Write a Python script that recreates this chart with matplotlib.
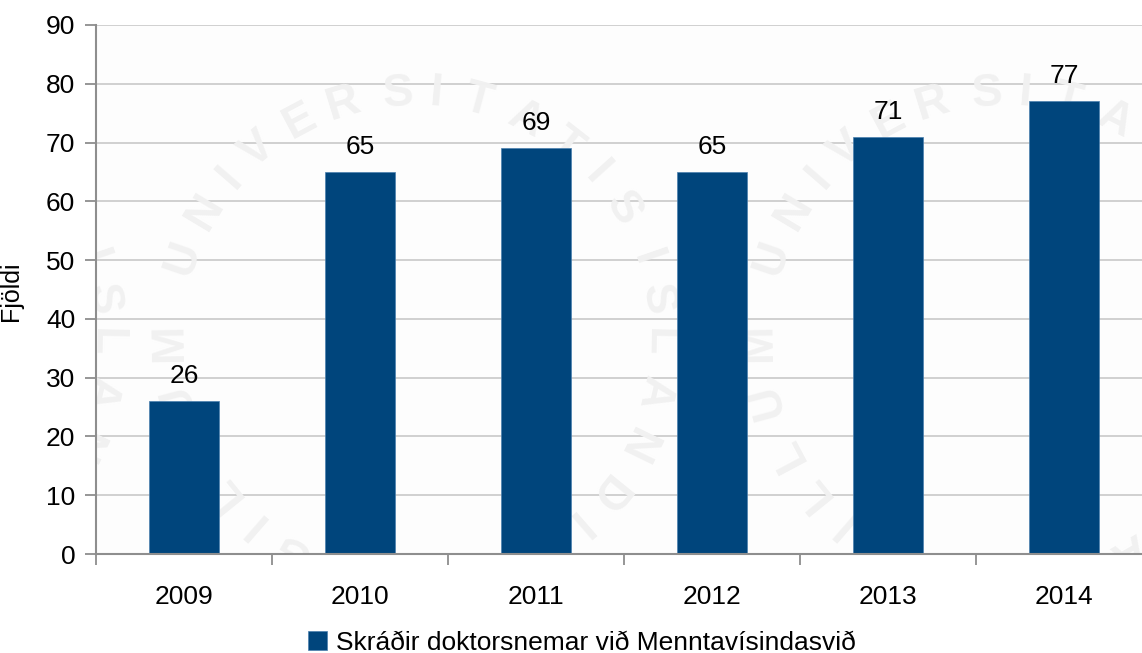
import numpy as np
import matplotlib
matplotlib.use("Agg")
import matplotlib.pyplot as plt
from matplotlib.transforms import Affine2D

years = ["2009", "2010", "2011", "2012", "2013", "2014"]
counts = [26, 65, 69, 65, 71, 77]
series_name = "Skráðir doktorsnemar við Menntavísindasvið"
y_label = "Fjöldi"
y_ticks = list(range(0, 100, 10))

seal_letters = list("SIGILLUM") + list("UNIVERSITATIS") + list("ISLANDIAE")
seal_angles = [-170, -160, -150, -139, -129, -118, -105, -91,
               -71, -59, -49, -40, -28, -17, -4, 5, 15, 27, 38, 48, 58,
               71, 81, 91, 103, 116, 129, 139, 150, 161]
seal_centres = [(-139, 338), (415, 338), (1004, 338)]
seal_radius = 245

W, H = 1142, 653
FONT = ["Liberation Sans Narrow", "Liberation Sans", "DejaVu Sans"]
plt.rcParams["font.family"] = FONT
BLUE = "#00457C"
AXIS = "#8E8E8E"
GRID = "#C9C9C9"

fig = plt.figure(figsize=(W / 100, H / 100), dpi=100, facecolor="white")
ax = fig.add_axes([96 / W, (H - 554) / H, 1056 / W, 529 / H])
ax.set_facecolor("#FDFDFD")

x = np.arange(len(years))
bars = ax.bar(x, counts, width=0.4, color=BLUE, edgecolor="#4A7FAE", linewidth=0.5,
              zorder=3, label=series_name)
ax.set_xlim(-0.5, 5.5)
ax.set_ylim(0, 90)
ax.set_yticks(y_ticks)
ax.set_xticks(x, years)
ax.set_xticks(np.arange(-0.5, 6, 1), minor=True)
ax.tick_params(axis="x", which="major", length=0, pad=22, labelsize=19, labelcolor="black")
ax.tick_params(axis="x", which="minor", length=8, width=1.3, color=AXIS)
ax.tick_params(axis="y", length=8, width=1.3, color=AXIS, pad=7, labelsize=19, labelcolor="black")
ax.grid(axis="y", color=GRID, linewidth=1.2, zorder=2)
ax.set_axisbelow(True)
for side in ("top", "right"):
    ax.spines[side].set_visible(False)
for side in ("left", "bottom"):
    ax.spines[side].set_color(AXIS)
    ax.spines[side].set_linewidth(1.5)
    ax.spines[side].set_zorder(4)

ax.set_ylabel(y_label, fontsize=18)
ax.yaxis.set_label_coords(-73 / 1056, 0.5)
ax.yaxis.label.set_position((-73 / 1056, (554 - 291) / 529))

for rect, value in zip(bars, counts):
    ax.annotate(str(value), (rect.get_x() + rect.get_width() / 2, value),
                xytext=(0, 13), textcoords="offset points", ha="center", va="baseline",
                fontsize=19, color="black", zorder=5)

# faint seal watermark behind the plot
px = Affine2D().scale(1, -1).translate(0, H)
for cx, cy in seal_centres:
    for letter, angle in zip(seal_letters, seal_angles):
        t = np.deg2rad(angle)
        lx, ly = cx + seal_radius * np.sin(t), cy - seal_radius * np.cos(t)
        ax.text(lx, ly, letter, transform=px, rotation=-angle, rotation_mode="anchor",
                ha="center", va="center", fontsize=33, fontweight="bold",
                family=["Liberation Sans", "DejaVu Sans"], color="#F1F1F1",
                zorder=1, clip_on=True)

fig.legend(*ax.get_legend_handles_labels(), loc="center", frameon=False, fontsize=19,
           bbox_to_anchor=(582 / W, (H - 643) / H), handlelength=0.72, handleheight=0.72,
           handletextpad=0.35, borderpad=0, labelcolor="black")

fig.savefig("out.png", dpi=100)
